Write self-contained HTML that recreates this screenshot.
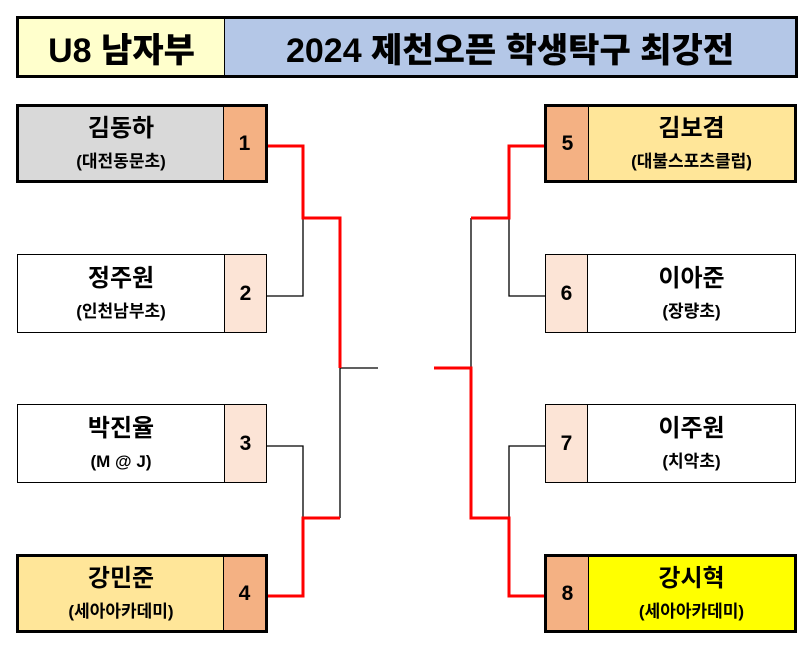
<!DOCTYPE html>
<html><head><meta charset="utf-8"><style>
*{margin:0;padding:0;box-sizing:border-box}
body{width:812px;height:650px;background:#fff;position:relative;overflow:hidden;font-family:"Liberation Sans","Noto Sans CJK KR",sans-serif;font-weight:bold;color:#000}
.a{position:absolute}
.hd{top:16px;height:62px;border:3px solid #000;display:flex;align-items:center;justify-content:center;font-size:34px;font-weight:900}
.box{position:absolute;display:flex;border:1px solid #000;height:79px}
.box.w{border:3px solid #000}
.nm{flex:1;display:flex;flex-direction:column;align-items:center;justify-content:center}
.nm .n{font-size:24px;line-height:30px}
.nm .s{font-size:17px;line-height:24px;margin-top:6px}
.num{width:42px;display:flex;align-items:center;justify-content:center;font-size:21px}
.L .num{border-left:1px solid #000}
.R .num{border-right:1px solid #000}
</style></head><body>
<div class="a hd" style="left:16px;width:211px;background:#ffffcc">U8 남자부</div>
<div class="a hd" style="left:224px;width:574px;background:#b4c7e7;border-left:1px solid #000">2024 제천오픈 학생탁구 최강전</div>

<svg class="a" style="left:0;top:0" width="812" height="650">
<g fill="none" stroke-width="1.3" stroke="#000">
<polyline points="266,296 303,296 303,218"/>
<polyline points="266,446 303,446 303,518"/>
<polyline points="340,368 340,518"/>
<polyline points="340,368 378,368"/>
<polyline points="545,296 509,296 509,218"/>
<polyline points="545,446 509,446 509,518"/>
<polyline points="471,218 471,368"/>
</g>
<g fill="none" stroke-width="3" stroke="#f00">
<polyline points="266,146 303,146 303,218 340,218 340,368"/>
<polyline points="266,596 303,596 303,518 340,518"/>
<polyline points="545,146 509,146 509,218 471,218"/>
<polyline points="545,596 509,596 509,518 471,518 471,368 434,368"/>
</g>
</svg>

<div class="box L w" style="left:16px;top:104px;width:252px;"><div class="nm" style="background:#d9d9d9"><div class="n">김동하</div><div class="s">(대전동문초)</div></div><div class="num" style="background:#f4b183">1</div></div>
<div class="box L" style="left:17px;top:254px;width:250px;"><div class="nm"><div class="n">정주원</div><div class="s">(인천남부초)</div></div><div class="num" style="background:#fce4d6">2</div></div>
<div class="box L" style="left:17px;top:404px;width:250px;"><div class="nm"><div class="n">박진율</div><div class="s">(M @ J)</div></div><div class="num" style="background:#fce4d6">3</div></div>
<div class="box L w" style="left:16px;top:554px;width:252px;"><div class="nm" style="background:#ffe699"><div class="n">강민준</div><div class="s">(세아아카데미)</div></div><div class="num" style="background:#f4b183">4</div></div>

<div class="box R w" style="left:544px;top:104px;width:253px;"><div class="num" style="background:#f4b183">5</div><div class="nm" style="background:#ffe699"><div class="n">김보겸</div><div class="s">(대불스포츠클럽)</div></div></div>
<div class="box R" style="left:545px;top:254px;width:251px;"><div class="num" style="background:#fce4d6">6</div><div class="nm"><div class="n">이아준</div><div class="s">(장량초)</div></div></div>
<div class="box R" style="left:545px;top:404px;width:251px;"><div class="num" style="background:#fce4d6">7</div><div class="nm"><div class="n">이주원</div><div class="s">(치악초)</div></div></div>
<div class="box R w" style="left:544px;top:554px;width:253px;"><div class="num" style="background:#f4b183">8</div><div class="nm" style="background:#ffff00"><div class="n">강시혁</div><div class="s">(세아아카데미)</div></div></div>
</body></html>
